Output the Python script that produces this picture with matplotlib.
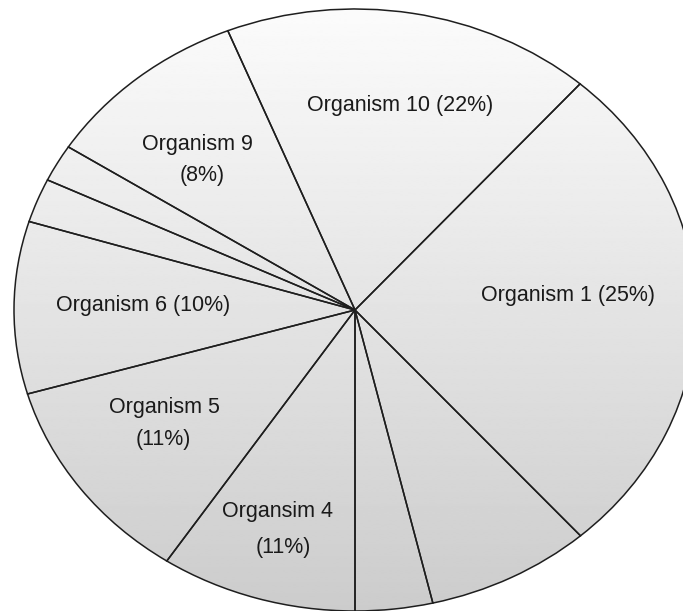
"""Organism share pie: elliptical, grey vertical gradient, hand-placed labels."""

import matplotlib

matplotlib.use("Agg")
import matplotlib.pyplot as plt  # noqa: E402
import numpy as np  # noqa: E402
from matplotlib.patches import Ellipse  # noqa: E402

# slice order runs clockwise from the upper-right boundary
names = ["Organism 1", "Organism 2", "Organism 3", "Organsim 4", "Organism 5",
         "Organism 6", "Organism 7", "Organism 8", "Organism 9", "Organism 10"]
# slice sizes as drawn (degrees of arc)
drawn_size = [97.3, 28.2, 13.2, 33.5, 40.3, 33.3, 8.5, 7.2, 35.3, 63.2]
# percentages written in the labels (None = unlabelled slice)
label_pct = [25, None, None, 11, 11, 10, None, None, 8, 22]

# --------------------------------------------------------------------------- #
# layout (pixel coords of the 683x611 canvas)
# --------------------------------------------------------------------------- #
W, H = 683, 611
CX, CY, RX, RY = 355, 310, 341, 301
START = 48.7
# label anchor per slice index: (x, y) for one line, or two points for a split label
LABEL_XY = {
    0: [(568, 295)],
    3: [(277, 511), (283, 548)],
    4: [(164, 408), (163, 439)],
    5: [(143, 306)],
    8: [(197, 145), (202, 175)],
    9: [(400, 106)],
}

fig = plt.figure(figsize=(W / 100, H / 100), dpi=100)
ax = fig.add_axes([0, 0, 1, 1])

wedges, _ = ax.pie(
    drawn_size, startangle=START, counterclock=False, radius=1,
    wedgeprops=dict(facecolor="none", edgecolor="#1e1e1e", linewidth=1.1),
)

grad = np.linspace(0.985, 0.80, 256)[:, None]
img = ax.imshow(grad, extent=(-1, 1, -1, 1), cmap="gray", vmin=0, vmax=1,
                aspect="auto", zorder=0, interpolation="bilinear")
clip = Ellipse((0, 0), 2, 2, transform=ax.transData, facecolor="none", edgecolor="none")
ax.add_patch(clip)
img.set_clip_path(clip)

ax.set_aspect("auto")
ax.set_xlim(-CX / RX, (W - CX) / RX)
ax.set_ylim((CY - H) / RY, CY / RY)
ax.axis("off")

for i, pts in LABEL_XY.items():
    parts = [f"{names[i]} ({label_pct[i]}%)"] if len(pts) == 1 else [names[i], f"({label_pct[i]}%)"]
    for txt, (x, y) in zip(parts, pts):
        fig.text(x / W, 1 - y / H, txt, ha="center", va="center",
                 fontsize=15.5, family="Liberation Sans", color="#1a1a1a")

fig.savefig("out.png", dpi=100, facecolor="white")
plt.close(fig)
